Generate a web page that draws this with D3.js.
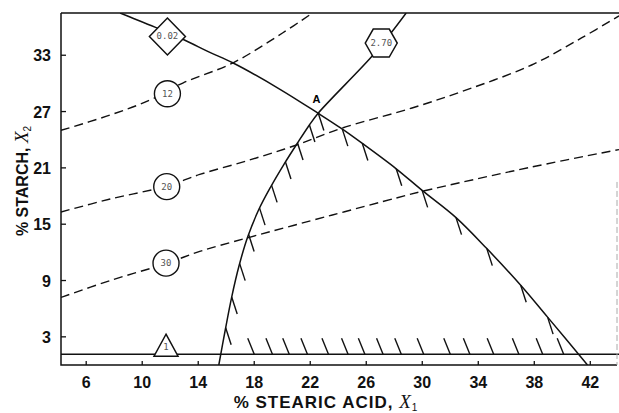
<!DOCTYPE html>
<html>
<head>
<meta charset="utf-8">
<script src="https://cdn.jsdelivr.net/npm/d3@7"></script>
<style>
  html, body { margin: 0; padding: 0; background: #fff; }
  svg { display: block; }
  .tick-label { font-family: "Liberation Sans Narrow", "Liberation Sans", Arial, sans-serif; font-weight: bold; font-size: 16px; fill: #111; }
  .axis-title { font-family: "Liberation Sans", Arial, sans-serif; font-weight: bold; font-size: 17px; fill: #111; letter-spacing: 1px; }
  .marker-label { font-family: "DejaVu Sans Mono", monospace; font-size: 9px; fill: #555; }
</style>
</head>
<body>
<div id="chart"></div>
<script>
// axis values
const xTicks = [6, 10, 14, 18, 22, 26, 30, 34, 38, 42];
const yTicks = [3, 9, 15, 21, 27, 33];

// solid boundary, response 0.02 (X1, X2)
const curve002 = [
  [8.42, 37.5], [9.13, 37.07], [10.91, 36.0], [13.05, 34.6], [14.83, 33.3],
  [16.46, 32.2], [19.81, 29.4], [22.58, 26.8], [24.22, 25.2], [25.72, 23.6],
  [28.14, 20.9], [29.99, 18.6], [32.41, 15.7], [34.61, 12.4], [37.03, 8.5],
  [38.95, 5.1], [41.8, 0]
];

// solid boundary, response 2.70
const curve270 = [
  [15.47, 0], [15.93, 3.73], [16.39, 7.24], [16.93, 10.65], [17.53, 13.64],
  [18.31, 16.51], [19.17, 18.96], [20.09, 21.3], [21.09, 23.65], [21.94, 25.57],
  [22.58, 26.85], [26.36, 32.81], [27.78, 35.4], [28.85, 37.5]
];

// dashed contours
const contour12 = [
  [4.2, 25.0], [7.71, 26.63], [10.56, 28.23], [12.9, 30.04], [16.46, 32.17],
  [20.02, 35.37], [22.16, 37.5]
];
const contour20 = [
  [4.2, 16.3], [7.71, 17.68], [11.77, 19.07], [14.11, 20.3], [17.67, 21.84],
  [21.02, 23.44], [24.29, 25.25], [29.27, 27.38], [33.54, 29.51], [37.81, 31.96],
  [41.37, 34.84], [44.05, 37.2]
];
const contour30 = [
  [4.2, 7.2], [7.71, 9.0], [11.69, 10.8], [14.11, 12.1], [17.53, 13.55],
  [23.58, 15.98], [28.14, 17.79], [29.99, 18.5], [37.81, 21.09], [44.05, 22.95]
];

// lower limit on starch
const starchMin = 1.15;

// hatch positions (X1) along each boundary
const hatch270 = [15.96, 16.39, 16.96, 17.6, 18.38, 19.24, 20.23, 21.09, 21.94];
const hatch002 = [22.58, 24.29, 25.72, 28.14, 29.99, 32.41, 34.61, 37.03, 38.95];
const hatchMin = [18.0, 19.3, 20.5, 21.8, 23.3, 24.7, 25.9, 27.2, 28.5, 30.1, 32.0, 33.4, 35.1, 36.9, 38.6, 40.1];

// labelled markers: [X1, X2, label]
const diamondMark = [11.8, 35.0, "0.02"];
const hexMark = [27.07, 34.3, "2.70"];
const circleMarks = [[11.8, 28.9, "12"], [11.75, 19.0, "20"], [11.7, 10.85, "30"]];
const triangleMark = [11.7, 2.4, "1"];
const pointA = [22.58, 26.85, "A"];

const width = 619, height = 413;
const margin = { left: 61, right: 0, top: 13, bottom: 48 };

const svg = d3.select("#chart").append("svg")
  .attr("width", width)
  .attr("height", height);

const x = d3.scaleLinear().domain([4.2, 44.05]).range([margin.left, width - margin.right]);
const y = d3.scaleLinear().domain([0, 37.5]).range([height - margin.bottom, margin.top]);

const line = d3.line().x(d => x(d[0])).y(d => y(d[1])).curve(d3.curveCatmullRom.alpha(0.5));

// clip to the plot area
svg.append("clipPath").attr("id", "plot")
  .append("rect")
  .attr("x", x.range()[0]).attr("y", y.range()[1])
  .attr("width", x.range()[1] - x.range()[0])
  .attr("height", y.range()[0] - y.range()[1]);

const g = svg.append("g").attr("clip-path", "url(#plot)");

// dashed contours
[contour12, contour20, contour30].forEach(c => {
  g.append("path")
    .attr("d", line(c))
    .attr("fill", "none")
    .attr("stroke", "#111")
    .attr("stroke-width", 1.4)
    .attr("stroke-dasharray", "9,5");
});

// solid boundaries
[curve002, curve270].forEach(c => {
  g.append("path")
    .attr("d", line(c))
    .attr("fill", "none")
    .attr("stroke", "#111")
    .attr("stroke-width", 1.5);
});

g.append("line")
  .attr("x1", x.range()[0]).attr("x2", x.range()[1])
  .attr("y1", y(starchMin)).attr("y2", y(starchMin))
  .attr("stroke", "#111").attr("stroke-width", 1.4);

// hatch marks showing the feasible side
const along = c => d3.scaleLinear().domain(c.map(d => d[0])).range(c.map(d => d[1]));
const at270 = along(curve270), at002 = along(curve002);
const hdx = 5.5, hdy = 17;

const hatches = [
  ...hatch270.map(v => [x(v), y(at270(v)), x(v) + hdx, y(at270(v)) + hdy]),
  ...hatch002.map(v => [x(v), y(at002(v)), x(v) + hdx, y(at002(v)) + hdy]),
  ...hatchMin.map(v => [x(v) - hdx - 1, y(starchMin) - hdy + 1, x(v), y(starchMin)])
];

g.selectAll("line.hatch")
  .data(hatches)
  .join("line")
  .attr("class", "hatch")
  .attr("x1", d => d[0]).attr("y1", d => d[1])
  .attr("x2", d => d[2]).attr("y2", d => d[3])
  .attr("stroke", "#111")
  .attr("stroke-width", 1.4);

// frame
svg.append("path")
  .attr("d", `M${x.range()[0]},${y.range()[1]}H${x.range()[1]}M${x.range()[0]},${y.range()[1]}V${y.range()[0]}H${x.range()[1] - 2}`)
  .attr("fill", "none").attr("stroke", "#111").attr("stroke-width", 1.5);
svg.append("line")
  .attr("x1", x.range()[1] - 2).attr("x2", x.range()[1] - 2)
  .attr("y1", y(19.5)).attr("y2", y.range()[0])
  .attr("stroke", "#aaa").attr("stroke-width", 1).attr("stroke-dasharray", "6,3");

// ticks
svg.selectAll("line.xtick").data(xTicks).join("line")
  .attr("x1", d => x(d)).attr("x2", d => x(d))
  .attr("y1", y.range()[0]).attr("y2", y.range()[0] - 4)
  .attr("stroke", "#111").attr("stroke-width", 1.3);
svg.selectAll("line.ytick").data(yTicks).join("line")
  .attr("x1", x.range()[0]).attr("x2", x.range()[0] + 5)
  .attr("y1", d => y(d)).attr("y2", d => y(d))
  .attr("stroke", "#111").attr("stroke-width", 1.3);

svg.selectAll("text.xlab").data(xTicks).join("text")
  .attr("class", "tick-label")
  .attr("x", d => x(d)).attr("y", y.range()[0] + 23)
  .attr("text-anchor", "middle")
  .text(d => d);
svg.selectAll("text.ylab").data(yTicks).join("text")
  .attr("class", "tick-label")
  .attr("x", x.range()[0] - 10).attr("y", d => y(d) + 6)
  .attr("text-anchor", "end")
  .text(d => d);

// axis titles
const xt = svg.append("text").attr("class", "axis-title")
  .attr("x", 326).attr("y", 408).attr("text-anchor", "middle");
xt.append("tspan").text("% STEARIC ACID, ");
xt.append("tspan").attr("font-style", "italic").attr("font-weight", "normal").attr("font-family", "Liberation Serif, serif").attr("font-size", 19).text("X");
xt.append("tspan").attr("font-size", 10).attr("font-weight", "normal").attr("dy", 3).text("1");

const yt = svg.append("text").attr("class", "axis-title")
  .attr("transform", `translate(28,181) rotate(-90)`)
  .attr("text-anchor", "middle")
  .style("letter-spacing", "0px").style("font-size", "16px");
yt.append("tspan").text("% STARCH, ");
yt.append("tspan").attr("font-style", "italic").attr("font-weight", "normal").attr("font-family", "Liberation Serif, serif").attr("font-size", 19).text("X");
yt.append("tspan").attr("font-size", 10).attr("font-weight", "normal").attr("dy", 3).text("2");

// markers
const mk = svg.append("g").attr("clip-path", "url(#plot)");

const dm = mk.append("g").attr("transform", `translate(${x(diamondMark[0])},${y(diamondMark[1])})`);
dm.append("path").attr("d", "M0,-18.5L18,0L0,18.5L-18,0Z")
  .attr("fill", "#fff").attr("stroke", "#111").attr("stroke-width", 1.5);
dm.append("text").attr("class", "marker-label").attr("fill", "#888").attr("text-anchor", "middle").attr("dy", 3).text(diamondMark[2]);

const hx = mk.append("g").attr("transform", `translate(${x(hexMark[0])},${y(hexMark[1])})`);
hx.append("path").attr("d", "M-16,0L-8,-14L8,-14L16,0L8,14L-8,14Z")
  .attr("fill", "#fff").attr("stroke", "#111").attr("stroke-width", 1.5);
hx.append("text").attr("class", "marker-label").attr("fill", "#222").attr("text-anchor", "middle").attr("dy", 3).text(hexMark[2]);

const cm = mk.selectAll("g.circ").data(circleMarks).join("g")
  .attr("transform", d => `translate(${x(d[0])},${y(d[1])})`);
cm.append("circle").attr("r", 13)
  .attr("fill", "#fff").attr("stroke", "#111").attr("stroke-width", 1.4);
cm.append("text").attr("class", "marker-label").attr("fill", "#aaa").attr("text-anchor", "middle").attr("dy", 3).text(d => d[2]);

const tr = mk.append("g").attr("transform", `translate(${x(triangleMark[0])},${y(starchMin)})`);
tr.append("path").attr("d", "M0,-20L12,2L-12,2Z")
  .attr("fill", "#fff").attr("stroke", "#111").attr("stroke-width", 1.5);
tr.append("text").attr("class", "marker-label").attr("fill", "#aaa").attr("text-anchor", "middle").attr("dy", -4).text(triangleMark[2]);

svg.append("text")
  .attr("x", x(pointA[0]) - 2).attr("y", y(pointA[1]) - 10)
  .attr("text-anchor", "middle")
  .attr("font-family", "Liberation Sans, Arial, sans-serif")
  .attr("font-size", 11).attr("font-weight", "bold")
  .text(pointA[2]);
</script>
</body>
</html>
